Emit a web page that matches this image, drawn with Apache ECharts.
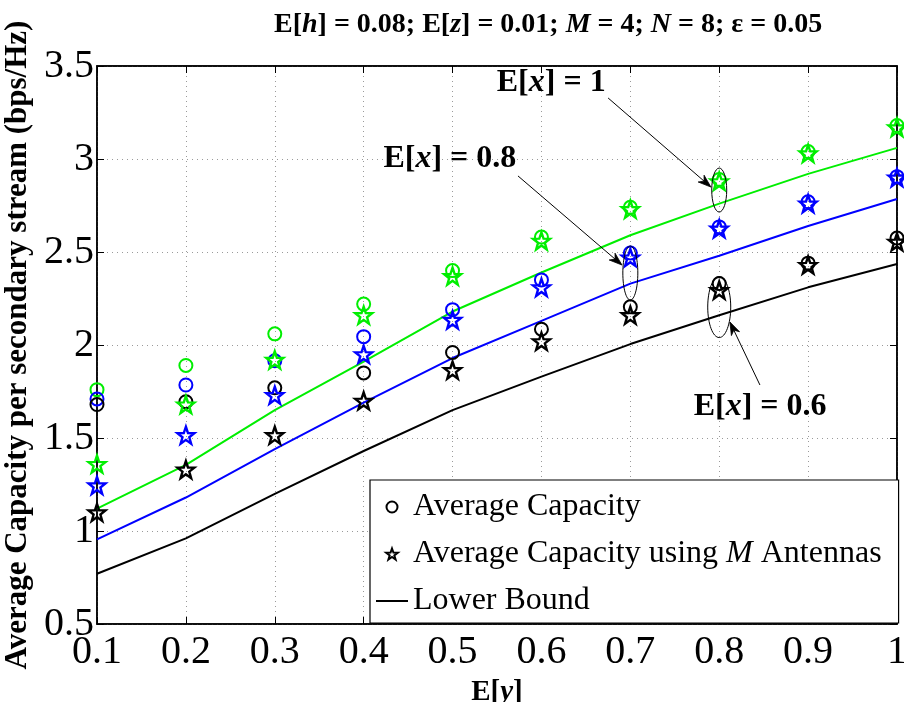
<!DOCTYPE html>
<html>
<head>
<meta charset="utf-8">
<script src="https://cdn.jsdelivr.net/npm/echarts@6/dist/echarts.min.js"></script>
<style>
html,body{margin:0;padding:0;background:#fff;}
#c{width:904px;height:702px;}
</style>
</head>
<body>
<div id="c"></div>
<script>
// ---- data ----
const xValues = [0.1, 0.2, 0.3, 0.4, 0.5, 0.6, 0.7, 0.8, 0.9, 1.0];
// E[x] = 1 (green)
const avgCap_x1   = [1.76, 1.89, 2.06, 2.22, 2.40, 2.58, 2.74, 2.89, 3.04, 3.18];
const avgCapM_x1  = [1.36, 1.68, 1.92, 2.16, 2.37, 2.56, 2.73, 2.88, 3.03, 3.17];
const lower_x1    = [1.12, 1.355, 1.65, 1.91, 2.18, 2.39, 2.59, 2.76, 2.92, 3.06];
// E[x] = 0.8 (blue)
const avgCap_x08  = [1.71, 1.785, 1.915, 2.045, 2.19, 2.35, 2.495, 2.635, 2.77, 2.905];
const avgCapM_x08 = [1.245, 1.515, 1.73, 1.95, 2.135, 2.31, 2.47, 2.625, 2.76, 2.90];
const lower_x08   = [0.955, 1.18, 1.44, 1.69, 1.93, 2.13, 2.33, 2.48, 2.64, 2.785];
// E[x] = 0.6 (black)
const avgCap_x06  = [1.68, 1.695, 1.77, 1.85, 1.96, 2.085, 2.205, 2.33, 2.44, 2.575];
const avgCapM_x06 = [1.10, 1.33, 1.515, 1.70, 1.865, 2.02, 2.16, 2.295, 2.43, 2.555];
const lower_x06   = [0.77, 0.96, 1.20, 1.43, 1.65, 1.83, 2.005, 2.16, 2.31, 2.435];

const legendNames = ['Average Capacity', 'Average Capacity using M Antennas', 'Lower Bound'];
// annotations in data coordinates
const annoTexts = [
  {label: '1',   pos: [0.611, 3.41]},
  {label: '0.8', pos: [0.497, 3.0]},
  {label: '0.6', pos: [0.846, 1.67]}
];
const annoArrows = [
  {from: [0.675, 3.328], to: [0.7907, 2.849]},
  {from: [0.5736, 2.909], to: [0.6906, 2.430]},
  {from: [0.8458, 1.785], to: [0.812, 2.124]}
];
const annoEllipses = [
  {center: [0.8, 2.833], rx: 7.5, ry: 22},
  {center: [0.7, 2.387], rx: 7.5, ry: 27},
  {center: [0.8, 2.204], rx: 11.5, ry: 30.5}
];

// ---- styles ----
const FONT = '"Liberation Serif", "Times New Roman", serif';
const GREEN = '#00ee00', BLUE = '#0000ff', BLACK = '#000000';
const STAR = 'path://M0,-10 L2.35,-3.24 L9.51,-3.09 L3.8,1.24 L5.88,8.09 L0,4 L-5.88,8.09 L-3.8,1.24 L-9.51,-3.09 L-2.35,-3.24 Z';
const LINE_ICON = 'path://M0,0 L32,0 L32,2 L0,2 Z';

function pairs(arr){ return xValues.map((x,i)=>[x, arr[i]]); }

function lineSeries(name, arr, color){
  return {type:'line', name, data: pairs(arr), symbol:'none', z:2,
    lineStyle:{color, width:2}, itemStyle:{color}, silent:true, animation:false};
}
function circleSeries(name, arr, color){
  return {type:'scatter', name, data: pairs(arr), symbol:'circle', symbolSize:13, z:3,
    itemStyle:{color:'rgba(0,0,0,0)', borderColor:color, borderWidth:2, opacity:1}, silent:true, animation:false};
}
function starSeries(name, arr, color){
  return {type:'scatter', name, data: pairs(arr), symbol:STAR, symbolSize:17, z:4,
    itemStyle:{color:'rgba(0,0,0,0)', borderColor:color, borderWidth:2.4, opacity:1}, silent:true, animation:false};
}

const chart = echarts.init(document.getElementById('c'), null, {renderer:'canvas'});

const axisCommon = {
  axisLine:{show:true, onZero:false, lineStyle:{color:'#000', width:1.5}},
  axisTick:{show:true, inside:true, length:7, lineStyle:{color:'#000', width:1}},
};

const option = {
  backgroundColor:'#fff',
  animation:false,
  title:{
    text:'{b|E[}{i|h}{b|] = 0.08; E[}{i|z}{b|] = 0.01; }{i|M}{b| = 4; }{i|N}{b| = 8; ε = 0.05}',
    left: 269, top: 6,
    textStyle:{
      rich:{
        b:{fontFamily:FONT, fontWeight:'bold', fontSize:28, color:'#000'},
        i:{fontFamily:FONT, fontWeight:'bold', fontStyle:'italic', fontSize:28, color:'#000'}
      }
    }
  },
  grid:{left:97, right:7, top:66, bottom:78, containLabel:false, outerBoundsMode:'none',
    show:true, borderColor:'#000', borderWidth:1.5, backgroundColor:'transparent'},
  legend:{
    orient:'vertical', left:370, top:480,
    data: [
      {name:legendNames[0]},
      {name:legendNames[1]},
      {name:legendNames[2], icon:LINE_ICON}
    ],
    itemWidth:32, itemHeight:11, itemGap:15,
    padding:[11, 17, 6, 6],
    borderColor:'#000', borderWidth:1.2, backgroundColor:'#fff',
    selectedMode:false,
    formatter: function(name){
      if (name === 'Average Capacity using M Antennas') return '{n|Average Capacity using }{i|M}{n| Antennas}';
      return '{n|' + name + '}';
    },
    textStyle:{
      fontFamily:FONT, fontSize:32, color:'#000', lineHeight:31,
      rich:{
        n:{fontFamily:FONT, fontSize:32, color:'#000', lineHeight:31},
        i:{fontFamily:FONT, fontSize:32, fontStyle:'italic', color:'#000', lineHeight:31}
      }
    },
    z:10
  },
  xAxis:[
    Object.assign({
      type:'value', min:0.1, max:1, interval:0.1, position:'bottom',
      name:'{b|E[}{i|y}{b|]}', nameLocation:'middle', nameGap:54,
      nameTextStyle:{rich:{
        b:{fontFamily:FONT, fontWeight:'bold', fontSize:29, color:'#000'},
        i:{fontFamily:FONT, fontWeight:'bold', fontStyle:'italic', fontSize:29, color:'#000'}
      }},
      axisLabel:{fontFamily:FONT, fontSize:40, color:'#000', margin:8},
      splitLine:{show:true, lineStyle:{color:'#9a9a9a', width:1, type:[1,4]}}
    }, axisCommon),
    Object.assign({
      type:'value', min:0.1, max:1, interval:0.1, position:'top',
      axisLabel:{show:false}, splitLine:{show:false}
    }, axisCommon)
  ],
  yAxis:[
    Object.assign({
      type:'value', min:0.5, max:3.5, interval:0.5, position:'left',
      name:'Average Capacity per secondary stream (bps/Hz)', nameLocation:'middle', nameGap:61,
      nameTextStyle:{fontFamily:FONT, fontWeight:'bold', fontSize:31, color:'#000'},
      axisLabel:{fontFamily:FONT, fontSize:40, color:'#000', margin:3},
      splitLine:{show:true, lineStyle:{color:'#9a9a9a', width:1, type:[1,4]}}
    }, axisCommon),
    Object.assign({
      type:'value', min:0.5, max:3.5, interval:0.5, position:'right',
      axisLabel:{show:false}, splitLine:{show:false}
    }, axisCommon)
  ],
  series:[
    // legend-only entries (black)
    {type:'scatter', name:legendNames[0], data:[], symbol:'circle',
      itemStyle:{color:'rgba(0,0,0,0)', borderColor:BLACK, borderWidth:1.5, opacity:1}},
    {type:'scatter', name:legendNames[1], data:[], symbol:STAR,
      itemStyle:{color:'rgba(0,0,0,0)', borderColor:BLACK, borderWidth:1.8, opacity:1}},
    {type:'line', name:legendNames[2], data:[], symbol:'none', lineStyle:{color:BLACK, width:2}, itemStyle:{color:BLACK}},
    // lower bounds
    lineSeries('LB x1', lower_x1, GREEN),
    lineSeries('LB x0.8', lower_x08, BLUE),
    lineSeries('LB x0.6', lower_x06, BLACK),
    // average capacity
    circleSeries('AC x1', avgCap_x1, GREEN),
    circleSeries('AC x0.8', avgCap_x08, BLUE),
    circleSeries('AC x0.6', avgCap_x06, BLACK),
    // with M antennas
    starSeries('ACM x1', avgCapM_x1, GREEN),
    starSeries('ACM x0.8', avgCapM_x08, BLUE),
    starSeries('ACM x0.6', avgCapM_x06, BLACK)
  ]
};
chart.setOption(option);

// ---- annotations (positioned via the chart's own scales) ----
function px(p){ return chart.convertToPixel({xAxisIndex:0, yAxisIndex:0}, p); }
const graphics = [];
annoEllipses.forEach(e=>{
  const c = px(e.center);
  graphics.push({type:'ellipse', shape:{cx:c[0], cy:c[1], rx:e.rx, ry:e.ry}, silent:true, z:20,
    style:{fill:'none', stroke:'#000', lineWidth:1}});
});
annoArrows.forEach(a=>{
  const p0 = px(a.from), p1 = px(a.to);
  const dx = p1[0]-p0[0], dy = p1[1]-p0[1];
  const L = Math.sqrt(dx*dx+dy*dy), ux = dx/L, uy = dy/L;
  const hl = 13, hw = 4.5;
  const bx = p1[0]-ux*hl, by = p1[1]-uy*hl;
  const nx = p1[0]-ux*hl*0.7, ny = p1[1]-uy*hl*0.7;
  graphics.push({type:'line', shape:{x1:p0[0], y1:p0[1], x2:nx, y2:ny}, silent:true, z:20,
    style:{stroke:'#000', lineWidth:1}});
  graphics.push({type:'polygon', silent:true, z:20,
    shape:{points:[[p1[0],p1[1]], [bx - uy*hw, by + ux*hw], [nx, ny], [bx + uy*hw, by - ux*hw]]},
    style:{fill:'#000', stroke:'#000', lineWidth:0.8}});
});
annoTexts.forEach(t=>{
  const c = px(t.pos);
  graphics.push({type:'text', x:c[0], y:c[1], silent:true, z:21,
    style:{
      text:'{b|E[}{i|x}{b|] = ' + t.label + '}',
      align:'center', verticalAlign:'middle',
      rich:{
        b:{fontFamily:FONT, fontWeight:'bold', fontSize:32, fill:'#000'},
        i:{fontFamily:FONT, fontWeight:'bold', fontStyle:'italic', fontSize:32, fill:'#000'}
      }
    }});
});
chart.setOption({graphic:graphics});
</script>
</body>
</html>
